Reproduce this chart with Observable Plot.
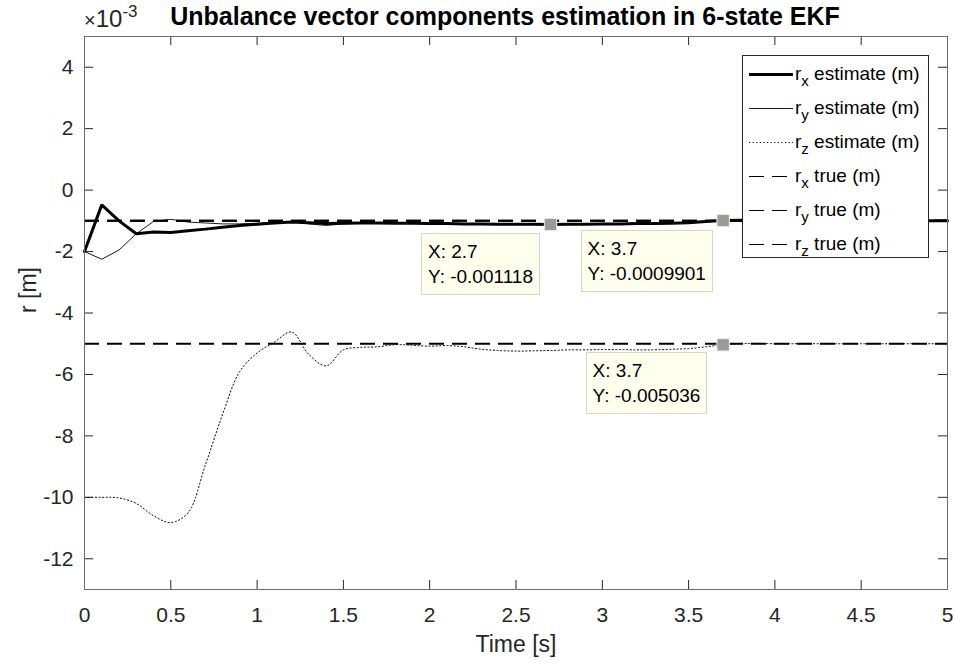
<!DOCTYPE html>
<html><head><meta charset="utf-8">
<script src="https://cdn.jsdelivr.net/npm/d3@7"></script>
<script src="https://cdn.jsdelivr.net/npm/@observablehq/plot@0.6"></script>
<style>
body{margin:0;background:#fff;}
#wrap{position:relative;width:955px;height:668px;font-family:"Liberation Sans",Arial,Helvetica,sans-serif;overflow:hidden;}
.ov{position:absolute;white-space:nowrap;}
.tip{position:absolute;white-space:nowrap;background:#ffffee;border:1px solid #d6d6c8;font-size:19px;line-height:25px;color:#000;padding:5px 6px 5px 6px;box-sizing:border-box;}
#legend{position:absolute;background:#fff;border:1px solid #262626;box-sizing:border-box;}
.lrow{position:absolute;left:0;font-size:19px;color:#000;white-space:nowrap;}
.lrow sub{font-size:15px;vertical-align:-6px;line-height:0;}
</style></head><body><div id="wrap"></div>
<script>
// ---- data (values in units of 1e-3 m) ----
const time = [0,0.1,0.2,0.3,0.4,0.5,0.6,0.7,0.8,0.9,1.0,1.1,1.2,1.3,1.4,1.5,1.6,1.7,1.8,1.9,2.0,2.1,2.2,2.3,2.4,2.5,2.6,2.7,2.8,2.9,3.0,3.1,3.2,3.3,3.4,3.5,3.6,3.7,3.8,3.9,4.0,4.1,4.2,4.3,4.4,4.5,4.6,4.7,4.8,4.9,5.0];
const rxEst = [-2.0,-0.48,-1.0,-1.42,-1.36,-1.38,-1.32,-1.27,-1.21,-1.15,-1.11,-1.07,-1.04,-1.06,-1.09,-1.08,-1.07,-1.07,-1.08,-1.08,-1.09,-1.09,-1.10,-1.10,-1.11,-1.11,-1.11,-1.118,-1.11,-1.11,-1.10,-1.10,-1.09,-1.09,-1.08,-1.06,-1.02,-0.99,-0.98,-0.98,-0.99,-0.99,-1.0,-1.0,-1.0,-1.0,-1.0,-1.0,-1.0,-1.0,-1.0];
const ryEst = [-2.0,-2.25,-1.95,-1.42,-1.02,-0.95,-1.04,-1.07,-1.1,-1.1,-1.08,-1.05,-1.03,-1.1,-1.15,-1.1,-1.08,-1.07,-1.08,-1.08,-1.09,-1.09,-1.10,-1.10,-1.11,-1.11,-1.11,-1.118,-1.11,-1.11,-1.10,-1.10,-1.09,-1.09,-1.08,-1.06,-1.02,-0.99,-0.98,-0.98,-0.99,-0.99,-1.0,-1.0,-1.0,-1.0,-1.0,-1.0,-1.0,-1.0,-1.0];
const rzEst = [-10.0,-10.0,-10.02,-10.2,-10.6,-10.82,-10.5,-8.95,-7.3,-5.9,-5.3,-4.95,-4.62,-5.35,-5.72,-5.2,-5.12,-5.1,-5.03,-5.05,-5.08,-5.06,-5.1,-5.18,-5.22,-5.24,-5.23,-5.22,-5.2,-5.2,-5.19,-5.19,-5.2,-5.2,-5.18,-5.16,-5.1,-5.036,-5.0,-4.99,-5.0,-5.0,-5.0,-5.0,-5.0,-5.0,-5.0,-5.0,-5.0,-5.0,-5.0];
const trueValues = [-1, -1, -5];           // r_x true, r_y true, r_z true
const xTicks = [0,0.5,1,1.5,2,2.5,3,3.5,4,4.5,5];
const yTicks = [-12,-10,-8,-6,-4,-2,0,2,4];
const legendLabels = [["r","x"," estimate (m)"],["r","y"," estimate (m)"],["r","z"," estimate (m)"],["r","x"," true (m)"],["r","y"," true (m)"],["r","z"," true (m)"]];
const tipX = [2.7, 3.7, 3.7];
const tipY = [-1.118, -0.9901, -5.036];
const tipText = [["X: 2.7","Y: -0.001118"],["X: 3.7","Y: -0.0009901"],["X: 3.7","Y: -0.005036"]];
const titleText = "Unbalance vector components estimation in 6-state EKF";

// ---- build ----
const rows = vals => time.map((t, i) => ({t, v: vals[i]}));
const tips = tipX.map((x, i) => ({x, y: tipY[i], text: tipText[i]}));
const fmt = d => (d < 0 ? "-" + Math.abs(d) : String(d));
const W = 955, H = 668, mL = 84, mR = 8, mT = 36, mB = 79;
const fw = W - mL - mR, fh = H - mT - mB, tk = 9;
const font = '"Liberation Sans", Arial, Helvetica, sans-serif';

const chart = Plot.plot({
  width: W, height: H, marginLeft: mL, marginRight: mR, marginTop: mT, marginBottom: mB,
  style: {fontFamily: font, fontSize: "21px", color: "#262626", background: "#fff", overflow: "visible"},
  x: {domain: [0, 5]},
  y: {domain: [-13, 5]},
  marks: [
    Plot.axisX({ticks: xTicks, tickSize: 0, tickPadding: 18, label: null, tickFormat: fmt, fill: "#262626"}),
    Plot.axisY({ticks: yTicks, tickSize: 0, tickPadding: 11, label: null, tickFormat: fmt, fill: "#262626"}),
    // inward ticks on all four sides (MATLAB box style)
    Plot.ruleX(xTicks, {x: d => d, insetTop: fh - tk, stroke: "#262626"}),
    Plot.ruleX(xTicks, {x: d => d, insetBottom: fh - tk, stroke: "#262626"}),
    Plot.ruleY(yTicks, {y: d => d, insetRight: fw - tk, stroke: "#262626"}),
    Plot.ruleY(yTicks, {y: d => d, insetLeft: fw - tk, stroke: "#262626"}),
    Plot.line(rows(rzEst), {x: "t", y: "v", stroke: "#000", strokeWidth: 1, strokeDasharray: "1.2,2.4", curve: "catmull-rom"}),
    Plot.line(rows(ryEst), {x: "t", y: "v", stroke: "#000", strokeWidth: 0.9}),
    Plot.line(rows(rxEst), {x: "t", y: "v", stroke: "#000", strokeWidth: 3, strokeLinejoin: "miter"}),
    Plot.ruleY(trueValues, {y: d => d, stroke: "#000", strokeWidth: 2, strokeDasharray: "15,8"}),
    Plot.dot(tips, {x: "x", y: "y", symbol: "square", r: 7, fill: "#9a9a9a", stroke: "#f4f4e0", strokeWidth: 1}),
    Plot.frame({stroke: "#6e6e6e", strokeWidth: 1}),
    Plot.text(["Time [s]"], {text: d => d, frameAnchor: "bottom", dy: 62, fontSize: 23, fill: "#262626"}),
    Plot.text(["r [m]"], {text: d => d, frameAnchor: "left", dx: -56, rotate: -90, fontSize: 23, fill: "#262626"})
  ]
});

const wrap = document.getElementById("wrap");
wrap.appendChild(chart);
chart.style.position = "absolute"; chart.style.left = "0"; chart.style.top = "0";

const sx = chart.scale("x"), sy = chart.scale("y");

// title and exponent
const title = document.createElement("div");
title.className = "ov";
title.style.cssText = "left:0;width:1010px;top:2px;text-align:center;font-weight:bold;font-size:25px;color:#000;";
title.textContent = titleText;
wrap.appendChild(title);

const expo = document.createElement("div");
expo.className = "ov";
expo.style.cssText = "left:84px;top:5px;font-size:24px;line-height:28px;color:#262626;";
expo.innerHTML = "<span style='font-size:20px'>\u00d7</span>10<sup style='font-size:17px;vertical-align:10px;line-height:0'>-3</sup>";
wrap.appendChild(expo);

// data tips
const tipOffsets = [[10, 9], [10, 10], [15, 8]];
tips.forEach((d, i) => {
  const px = sx.apply(d.x), py = sy.apply(d.y);
  const el = document.createElement("div");
  el.className = "tip";
  el.innerHTML = d.text.join("<br>");
  wrap.appendChild(el);
  const w = el.offsetWidth;
  el.style.left = (px - tipOffsets[i][0] - w) + "px";
  el.style.top = (py + tipOffsets[i][1]) + "px";
});

// legend
const lg = document.createElement("div");
lg.id = "legend";
lg.style.cssText += "left:742px;top:55px;width:187px;height:203px;";
wrap.appendChild(lg);
const samples = [
  {w: 3, dash: null},
  {w: 0.9, dash: null},
  {w: 1, dash: "1.2,2.4"},
  {w: 1, dash: "15,8"},
  {w: 1, dash: "15,8"},
  {w: 1, dash: "15,8"}
];
legendLabels.forEach((lab, i) => {
  const row = document.createElement("div");
  row.className = "lrow";
  const cy = 18 + 34 * i;
  row.style.top = (cy - 12) + "px";
  const s = samples[i];
  row.innerHTML = `<svg width="50" height="24" style="position:absolute;left:5px;top:0"><line x1="1" x2="45" y1="12.5" y2="12.5" stroke="#000" stroke-width="${s.w}" ${s.dash ? `stroke-dasharray="${s.dash}"` : ""}/></svg>` +
    `<span style="position:absolute;left:52px;top:0px;line-height:24px">${lab[0]}<sub>${lab[1]}</sub>${lab[2]}</span>`;
  lg.appendChild(row);
});
</script></body></html>
